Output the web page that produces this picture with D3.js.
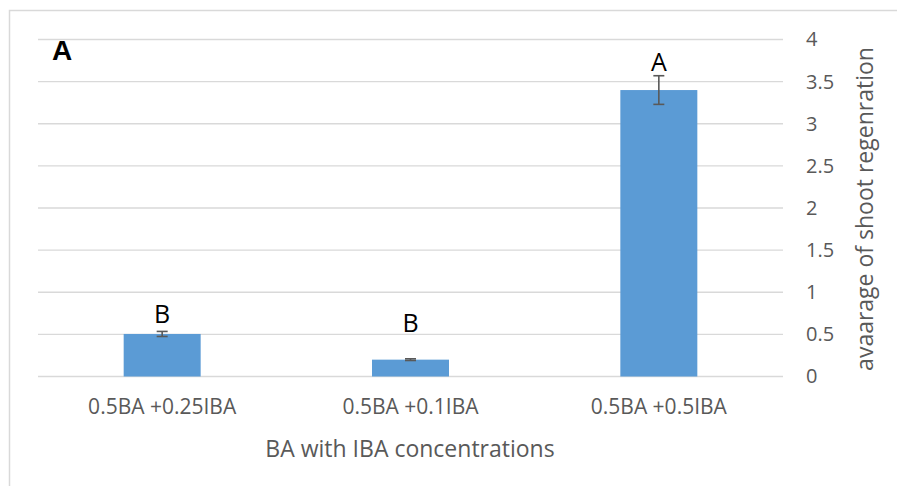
<!DOCTYPE html>
<html>
<head>
<meta charset="utf-8">
<script src="https://cdn.jsdelivr.net/npm/d3@7"></script>
<style>
  html, body { margin: 0; padding: 0; background: #fff; }
  svg { display: block; }
</style>
</head>
<body>
<svg id="chart" width="897" height="486"></svg>
<script>
// Shoot regeneration under BA + IBA treatments
const categories = ["0.5BA +0.25IBA", "0.5BA +0.1IBA", "0.5BA +0.5IBA"];
const means = [0.505, 0.2, 3.40];
const errors = [0.03, 0.01, 0.17];
const groupLetters = ["B", "B", "A"];
const letterAt = [0.635, 0.525, 3.63];   // baseline of each letter, in data units
const yTicks = [0, 0.5, 1, 1.5, 2, 2.5, 3, 3.5, 4];

const svg = d3.select("#chart");
const W = 897, H = 486;
const plot = { left: 38, right: 783, top: 39.5, bottom: 376.5 };

const x = d3.scaleBand()
  .domain(categories)
  .range([plot.left, plot.right])
  .paddingInner(0.69)
  .paddingOuter(0.345);

const y = d3.scaleLinear()
  .domain([0, 4])
  .range([plot.bottom, plot.top]);

// outer frame (top and left edges visible)
svg.append("path")
  .attr("d", `M9.5,${H} L9.5,10.5 L${W},10.5`)
  .attr("fill", "none")
  .attr("stroke", "#d9d9d9")
  .attr("stroke-width", 1.5);

// gridlines
svg.append("g")
  .selectAll("line")
  .data(yTicks)
  .join("line")
  .attr("x1", plot.left)
  .attr("x2", plot.right)
  .attr("y1", d => y(d))
  .attr("y2", d => y(d))
  .attr("stroke", "#d9d9d9")
  .attr("stroke-width", 1.3);

// bars
svg.append("g")
  .selectAll("rect")
  .data(categories)
  .join("rect")
  .attr("x", d => x(d))
  .attr("width", x.bandwidth())
  .attr("y", (d, i) => y(means[i]))
  .attr("height", (d, i) => y(0) - y(means[i]))
  .attr("fill", "#5b9bd5");

// error bars
const eb = svg.append("g")
  .attr("stroke", "#595959")
  .attr("stroke-width", 1.6)
  .selectAll("g")
  .data(categories)
  .join("g");
const cx = d => x(d) + x.bandwidth() / 2;
const capHalf = 5.5;
eb.append("line")
  .attr("x1", cx).attr("x2", cx)
  .attr("y1", (d, i) => y(means[i] + errors[i]))
  .attr("y2", (d, i) => y(means[i] - errors[i]));
eb.append("line")
  .attr("x1", d => cx(d) - capHalf).attr("x2", d => cx(d) + capHalf)
  .attr("y1", (d, i) => y(means[i] + errors[i]))
  .attr("y2", (d, i) => y(means[i] + errors[i]));
eb.append("line")
  .attr("x1", d => cx(d) - capHalf).attr("x2", d => cx(d) + capHalf)
  .attr("y1", (d, i) => y(means[i] - errors[i]))
  .attr("y2", (d, i) => y(means[i] - errors[i]));

// significance letters
svg.append("g")
  .selectAll("text")
  .data(categories)
  .join("text")
  .attr("x", cx)
  .attr("y", (d, i) => y(letterAt[i]))
  .attr("text-anchor", "middle")
  .attr("font-family", "'Open Sans', sans-serif")
  .attr("font-size", 25)
  .attr("fill", "#000")
  .text((d, i) => groupLetters[i]);

// right value axis
const yAxis = d3.axisRight(y).tickValues(yTicks).tickSize(0).tickPadding(0)
  .tickFormat(d3.format("~g"));
const ya = svg.append("g")
  .attr("transform", `translate(806,0)`)
  .call(yAxis);
ya.select(".domain").remove();
ya.selectAll("text")
  .attr("font-family", "'Open Sans', sans-serif")
  .attr("font-size", 20)
  .attr("fill", "#595959");

// category axis
const xAxis = d3.axisBottom(x).tickSize(0).tickPadding(0);
const xa = svg.append("g")
  .attr("transform", `translate(0,399)`)
  .call(xAxis);
xa.select(".domain").remove();
xa.selectAll("text")
  .attr("font-family", "'Open Sans', sans-serif")
  .attr("font-size", 21)
  .attr("fill", "#595959");

// axis titles
svg.append("text")
  .attr("x", 410)
  .attr("y", 456.5)
  .attr("text-anchor", "middle")
  .attr("font-family", "'Open Sans', sans-serif")
  .attr("font-size", 23)
  .attr("fill", "#595959")
  .text("BA with IBA concentrations");

svg.append("text")
  .attr("transform", `translate(873,209) rotate(-90)`)
  .attr("text-anchor", "middle")
  .attr("font-family", "'Open Sans', sans-serif")
  .attr("font-size", 23)
  .attr("fill", "#595959")
  .text("avaarage of shoot regenration");

// panel label
svg.append("text")
  .attr("x", 52)
  .attr("y", 60)
  .attr("font-family", "'Liberation Sans', Arial, sans-serif")
  .attr("font-weight", "bold")
  .attr("font-size", 28)
  .attr("fill", "#000")
  .text("A");
</script>
</body>
</html>
